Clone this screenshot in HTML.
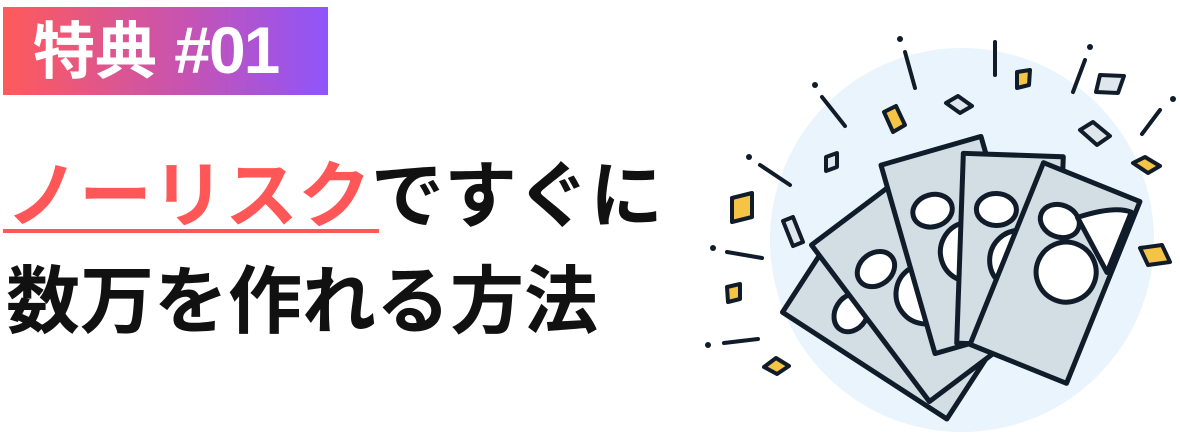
<!DOCTYPE html>
<html><head><meta charset="utf-8"><style>
html,body{margin:0;padding:0;background:#fff;width:1180px;height:436px;overflow:hidden;position:relative}
.f{font-family:"Liberation Sans","Noto Sans CJK JP",sans-serif;font-weight:bold;position:absolute;white-space:nowrap}
#badge{left:3px;top:7px;width:325px;height:88px;background:linear-gradient(90deg,#ff5a5a,#c853b0 55%,#8f55fa)}
#bt{left:33px;top:12px;font-size:62px;color:#fff;line-height:76px}
#bt b{font-size:66px;letter-spacing:-2px}
#l1{left:6px;top:152px;font-size:73px;line-height:90px;color:#111}
#l1 span{color:#ff5757}
#ul{left:3px;top:229px;width:376px;height:4px;background:#ff5757;position:absolute}
#l2{left:6px;top:257px;font-size:74px;line-height:90px;color:#111}
svg{position:absolute;left:0;top:0}
</style></head><body>
<div id="badge" class="f"></div>
<div id="bt" class="f">特典 <b>#01</b></div>
<div id="l1" class="f"><span>ノーリスク</span>ですぐに</div>
<div id="ul"></div>
<div id="l2" class="f">数万を作れる方法</div>
<svg width="1180" height="436" viewBox="0 0 1180 436">
<circle cx="962" cy="240" r="192" fill="#eaf4fd"/>
<g stroke="#111c2b" stroke-width="4" stroke-linecap="round" fill="none">
<line x1="905" y1="52" x2="915" y2="88"/><line x1="995" y1="42" x2="995" y2="75"/>
<line x1="1085" y1="60" x2="1073" y2="92"/><line x1="1160" y1="110" x2="1142" y2="134"/>
<line x1="822" y1="97" x2="845" y2="126"/><line x1="760" y1="165" x2="790" y2="185"/>
<line x1="727" y1="252" x2="762" y2="258"/><line x1="724" y1="343" x2="758" y2="339"/>
</g>
<g fill="#111c2b"><circle cx="900" cy="39" r="3"/><circle cx="815" cy="85" r="3"/><circle cx="749" cy="157" r="3"/><circle cx="713" cy="248" r="3"/><circle cx="708" cy="345" r="3"/><circle cx="1090" cy="47" r="3"/><circle cx="1173" cy="99" r="3"/></g>
<g stroke="#111c2b" stroke-width="4" stroke-linejoin="round">
<polygon points="884,112 896,106 905,125 893,132" fill="#f6c445"/>
<polygon points="946,103 958,96 972,106 960,113" fill="#dfe6ec"/>
<polygon points="1017,72 1030,70 1029,85 1017,88" fill="#f6c445"/>
<polygon points="1100,75 1124,76 1118,93 1096,92" fill="#dfe6ec"/>
<polygon points="1080,130 1093,122 1110,136 1097,145" fill="#dfe6ec"/>
<polygon points="1133,163 1145,157 1160,166 1148,173" fill="#f6c445"/>
<polygon points="1140,248 1162,245 1170,262 1148,265" fill="#f6c445"/>
<polygon points="826,157 837,153 837,167 826,171" fill="#dfe6ec"/>
<polygon points="732,198 752,193 752,217 732,222" fill="#f6c445"/>
<polygon points="783,221 793,217 803,242 793,246" fill="#dfe6ec"/>
<polygon points="727,287 740,284 740,299 728,302" fill="#f6c445"/>
<polygon points="764,367 776,358 789,366 777,374" fill="#f6c445"/>
</g>
<g stroke="#111c2b" stroke-width="5" stroke-linejoin="round">
<g transform="translate(893,322) rotate(-57)"><rect x="-52" y="-98" width="104" height="196" fill="#d3dde4"/><circle cx="10" cy="10" r="30" fill="#fff"/><ellipse cx="-15" cy="-40" rx="20" ry="16" fill="#fff"/></g>
<g transform="translate(912,292) rotate(-37)"><rect x="-52" y="-98" width="104" height="196" fill="#d3dde4"/><circle cx="10" cy="10" r="30" fill="#fff"/><ellipse cx="-15" cy="-40" rx="20" ry="16" fill="#fff"/></g>
<g transform="translate(958,245) rotate(-16)"><rect x="-52" y="-98" width="104" height="196" fill="#d3dde4"/><circle cx="10" cy="10" r="30" fill="#fff"/><ellipse cx="-15" cy="-40" rx="20" ry="16" fill="#fff"/></g>
<g transform="translate(1010,250) rotate(2)"><rect x="-50" y="-95" width="100" height="190" fill="#d3dde4"/><circle cx="10" cy="10" r="30" fill="#fff"/><ellipse cx="-15" cy="-40" rx="20" ry="16" fill="#fff"/></g>
<g transform="translate(1055,273) rotate(22)"><rect x="-52" y="-98" width="104" height="196" fill="#d3dde4"/><circle cx="10" cy="-5" r="30" fill="#fff"/><ellipse cx="-15" cy="-50" rx="20" ry="16" fill="#fff"/><path d="M0,-60 Q30,-85 48,-85 L48,-20 Z" fill="#fff"/></g>
</g>
</svg>
</body></html>
